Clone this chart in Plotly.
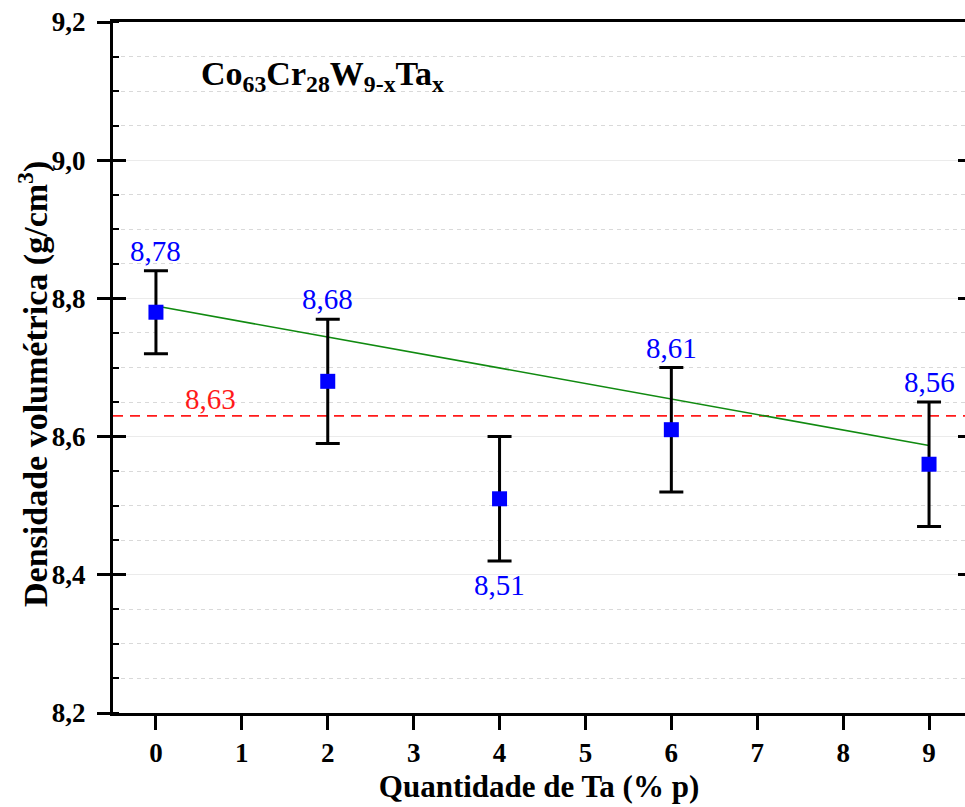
import plotly.graph_objects as go

# Ta content (% p) and measured bulk density (g/cm3)
ta_content = [0, 2, 4, 6, 9]
density = [8.78, 8.68, 8.51, 8.61, 8.56]
density_err = [0.06, 0.09, 0.09, 0.09, 0.09]
label_side = ["above", "above", "below", "above", "above"]

# trend line end points
trend_x = [0, 9]
trend_y = [8.789, 8.587]

# reference density
ref_density = 8.63
ref_label_x = 0.64

x_ticks = [0, 1, 2, 3, 4, 5, 6, 7, 8, 9]
y_ticks = [8.2, 8.4, 8.6, 8.8, 9.0, 9.2]

SERIF = "Liberation Serif, Times New Roman, serif"
Y_RANGE = [8.2, 9.2]
X_RANGE = [-0.5, 9.4186]

fig = go.Figure()

# reference line across the whole axis
fig.add_trace(go.Scatter(
    x=[X_RANGE[0], X_RANGE[1]], y=[ref_density, ref_density], mode="lines",
    line=dict(color="#ff1a1a", width=1.6, dash="10px,7px"),
    hoverinfo="skip", showlegend=False, cliponaxis=False))

# linear trend
fig.add_trace(go.Scatter(
    x=trend_x, y=trend_y, mode="lines",
    line=dict(color="#108a10", width=1.6),
    hoverinfo="skip", showlegend=False))

# measured points with error bars
fig.add_trace(go.Scatter(
    x=ta_content, y=density, mode="markers",
    marker=dict(symbol="square", size=15, color="#0000ff", line=dict(width=0)),
    error_y=dict(type="data", array=density_err, visible=True,
                 color="black", thickness=3, width=12),
    showlegend=False))

# helper traces so the extra tick axes are drawn
fig.add_trace(go.Scatter(x=[None], y=[None], yaxis="y2", showlegend=False, hoverinfo="skip"))
fig.add_trace(go.Scatter(x=[None], y=[None], yaxis="y3", showlegend=False, hoverinfo="skip"))

# value labels
for xv, yv, ev, side in zip(ta_content, density, density_err, label_side):
    txt = f"{yv:.2f}".replace(".", ",")
    if side == "above":
        fig.add_annotation(x=xv, y=yv + ev, text=txt, showarrow=False,
                           yanchor="bottom", yshift=2,
                           font=dict(family=SERIF, size=29, color="#0000ff"))
    else:
        fig.add_annotation(x=xv, y=yv - ev, text=txt, showarrow=False,
                           yanchor="top", yshift=-6,
                           font=dict(family=SERIF, size=29, color="#0000ff"))

fig.add_annotation(x=ref_label_x, y=ref_density, text=f"{ref_density:.2f}".replace(".", ","),
                   showarrow=False, yanchor="bottom", yshift=-1,
                   font=dict(family=SERIF, size=29, color="#ff1a1a"))

# composition label
fig.add_annotation(xref="paper", yref="paper", x=(199 - 113) / 852, y=(713 - 76) / 691,
                   xanchor="left", yanchor="middle", showarrow=False,
                   text="Co<sub>63</sub>Cr<sub>28</sub>W<sub>9-x</sub>Ta<sub>x</sub>",
                   font=dict(family=SERIF, size=34, color="black", weight="bold"))

# y axis title
fig.add_annotation(xref="paper", yref="paper", x=(33 - 113) / 852, y=(713 - 384) / 691,
                   xanchor="center", yanchor="middle", showarrow=False, textangle=-90,
                   text="Densidade volumétrica (g/cm<sup>3</sup>)",
                   font=dict(family=SERIF, size=34, color="black", weight="bold"))

tick_font = dict(family=SERIF, size=27, color="black", weight="bold")

fig.update_layout(
    width=965, height=807,
    margin=dict(l=113, r=0, t=22, b=94),
    paper_bgcolor="white", plot_bgcolor="white",
    separators=",.",
    font=dict(family=SERIF),
    xaxis=dict(
        range=X_RANGE, tickvals=x_ticks, ticktext=[str(v) for v in x_ticks],
        showgrid=False, zeroline=False,
        showline=True, linecolor="black", linewidth=3, mirror=True,
        ticks="outside", ticklen=14, tickwidth=3, tickcolor="black",
        tickfont=tick_font,
        title=dict(text="Quantidade de Ta (% p)", standoff=8,
                   font=dict(family=SERIF, size=31, color="black", weight="bold")),
    ),
    yaxis=dict(
        range=Y_RANGE, tickvals=y_ticks, tickformat=".1f",
        showgrid=True, gridcolor="#ebebeb", gridwidth=1, zeroline=False,
        showline=True, linecolor="black", linewidth=3, mirror=False,
        ticks="outside", ticklen=13, tickwidth=3, tickcolor="black",
        tickfont=tick_font, ticklabelstandoff=6,
        minor=dict(dtick=0.05, tick0=8.2, ticks="inside", ticklen=6, tickwidth=2,
                   tickcolor="black", showgrid=True, gridcolor="#d9d9d9",
                   gridwidth=1, griddash="4px,4px"),
    ),
    yaxis2=dict(
        overlaying="y", side="left", anchor="x", range=Y_RANGE, tickvals=y_ticks,
        showgrid=False, zeroline=False, showline=False, showticklabels=False,
        ticks="inside", ticklen=13, tickwidth=3, tickcolor="black",
    ),
    yaxis3=dict(
        overlaying="y", side="right", anchor="x", range=Y_RANGE, tickvals=y_ticks,
        showgrid=False, zeroline=False, showline=False, showticklabels=False,
        ticks="inside", ticklen=7, tickwidth=3, tickcolor="black",
    ),
)

fig.write_html("out.html")
